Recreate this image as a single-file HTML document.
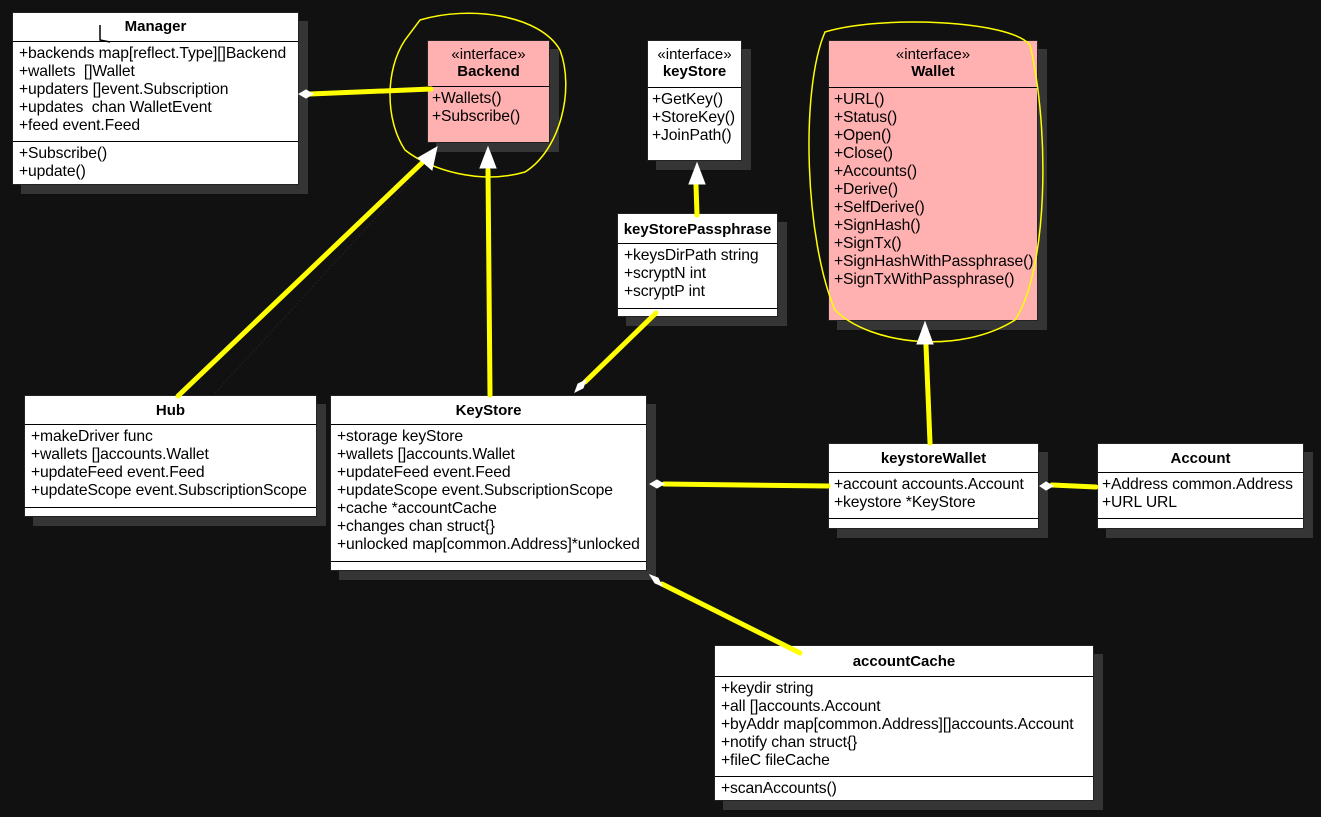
<!DOCTYPE html>
<html><head><meta charset="utf-8"><style>
body{margin:0;width:1321px;height:817px;background:#111;position:relative;overflow:hidden;font-family:"Liberation Sans",sans-serif;font-size:15.7px;color:#000}
.b{position:absolute;background:#fff;border:1px solid #222;box-sizing:border-box;box-shadow:9px 9px 0 #353535}
.p{background:#ffb0b0}
.h{font-weight:bold;text-align:center;border-bottom:1px solid #000;box-sizing:border-box;line-height:17px;font-size:15px}
.s{font-weight:normal}
.a{padding:3px 6px 1px;line-height:18px;border-bottom:1px solid #000;white-space:nowrap;letter-spacing:-0.1px;box-sizing:border-box}
svg{position:absolute;left:0;top:0}
</style></head><body>

<div class="b" style="left:12px;top:12px;width:287px;height:173px">
<div class="h" style="height:29px;padding-top:5px">Manager</div>
<div class="a" style="height:100px">+backends map[reflect.Type][]Backend<br>+wallets &nbsp;[]Wallet<br>+updaters []event.Subscription<br>+updates &nbsp;chan WalletEvent<br>+feed event.Feed</div>
<div class="a" style="border:0">+Subscribe()<br>+update()</div></div>

<div class="b p" style="left:427px;top:40px;width:123px;height:103px">
<div class="h" style="height:46px;padding-top:5px"><span class="s">«interface»</span><br>Backend</div>
<div class="a" style="border:0;padding-left:4px">+Wallets()<br>+Subscribe()</div></div>

<div class="b" style="left:647px;top:40px;width:95px;height:121px">
<div class="h" style="height:47px;padding-top:5px"><span class="s">«interface»</span><br>keyStore</div>
<div class="a" style="border:0;padding-left:4px">+GetKey()<br>+StoreKey()<br>+JoinPath()</div></div>

<div class="b p" style="left:828px;top:40px;width:210px;height:281px">
<div class="h" style="height:47px;padding-top:5px"><span class="s">«interface»</span><br>Wallet</div>
<div class="a" style="border:0;padding-left:5px;line-height:18px">+URL()<br>+Status()<br>+Open()<br>+Close()<br>+Accounts()<br>+Derive()<br>+SelfDerive()<br>+SignHash()<br>+SignTx()<br>+SignHashWithPassphrase()<br>+SignTxWithPassphrase()</div></div>

<div class="b" style="left:617px;top:213px;width:161px;height:104px">
<div class="h" style="height:30px;padding-top:7px">keyStorePassphrase</div>
<div class="a" style="height:65px">+keysDirPath string<br>+scryptN int<br>+scryptP int</div></div>

<div class="b" style="left:24px;top:395px;width:293px;height:122px">
<div class="h" style="height:29px;padding-top:6px">Hub</div>
<div class="a" style="height:83px">+makeDriver func<br>+wallets []accounts.Wallet<br>+updateFeed event.Feed<br>+updateScope event.SubscriptionScope</div></div>

<div class="b" style="left:330px;top:395px;width:317px;height:176px">
<div class="h" style="height:29px;padding-top:6px">KeyStore</div>
<div class="a" style="height:137px">+storage keyStore<br>+wallets []accounts.Wallet<br>+updateFeed event.Feed<br>+updateScope event.SubscriptionScope<br>+cache *accountCache<br>+changes chan struct{}<br>+unlocked map[common.Address]*unlocked</div></div>

<div class="b" style="left:828px;top:443px;width:211px;height:86px">
<div class="h" style="height:29px;padding-top:6px">keystoreWallet</div>
<div class="a" style="height:46px;padding-left:5px">+account accounts.Account<br>+keystore *KeyStore</div></div>

<div class="b" style="left:1097px;top:443px;width:207px;height:86px">
<div class="h" style="height:29px;padding-top:6px">Account</div>
<div class="a" style="height:46px;padding-left:4px">+Address common.Address<br>+URL URL</div></div>

<div class="b" style="left:714px;top:645px;width:380px;height:156px">
<div class="h" style="height:31px;padding-top:7px">accountCache</div>
<div class="a" style="height:100px">+keydir string<br>+all []accounts.Account<br>+byAddr map[common.Address][]accounts.Account<br>+notify chan struct{}<br>+fileC fileCache</div>
<div class="a" style="border:0">+scanAccounts()</div></div>

<svg width="1321" height="817" viewBox="0 0 1321 817">
<g stroke="#ffff00" fill="none" stroke-linecap="round">
<path d="M420 20 C 470 5, 540 15, 560 50 C 575 90, 560 150, 525 172 C 480 185, 430 170, 405 150 C 385 120, 385 70, 405 40 Z" stroke-width="1.5"/>
<path d="M825 32 C 880 15, 1010 20, 1030 45 C 1050 130, 1048 270, 1015 320 C 960 355, 870 345, 835 310 C 805 240, 800 90, 825 32 Z" stroke-width="1.5"/>
<g stroke-width="5">
<line x1="310" y1="94" x2="431" y2="89"/>
<line x1="178" y1="396" x2="425" y2="160"/>
<line x1="490" y1="395" x2="488" y2="170"/>
<line x1="656" y1="313" x2="585" y2="382"/>
<line x1="697" y1="215" x2="696" y2="185"/>
<line x1="930" y1="443" x2="926" y2="345"/>
<line x1="664" y1="484" x2="828" y2="486"/>
<line x1="1052" y1="485" x2="1096" y2="487"/>
<line x1="662" y1="584" x2="800" y2="653"/>
</g></g>
<line x1="215" y1="393" x2="418" y2="172" stroke="#222" stroke-width="1" stroke-dasharray="2,2"/>
<g fill="#fff" stroke="#fff">
<polygon points="299,94 306,90 313,94 306,98"/>
<polygon points="437,147 432,170 418,158"/>
<polygon points="488,147 480,168 496,168"/>
<polygon points="575,392 578,384 586,380 583,388"/>
<polygon points="697,163 689,184 705,184"/>
<polygon points="925,322 917,344 933,344"/>
<polygon points="650,484 657,480 664,484 657,488"/>
<polygon points="1040,486 1046,482 1053,486 1046,490"/>
<polygon points="650,575 658,578 662,586 655,583"/>
</g>
<path d="M100 25 L100 40 L110 42" stroke="#000" stroke-width="1.5" fill="none"/>
</svg>
</body></html>
